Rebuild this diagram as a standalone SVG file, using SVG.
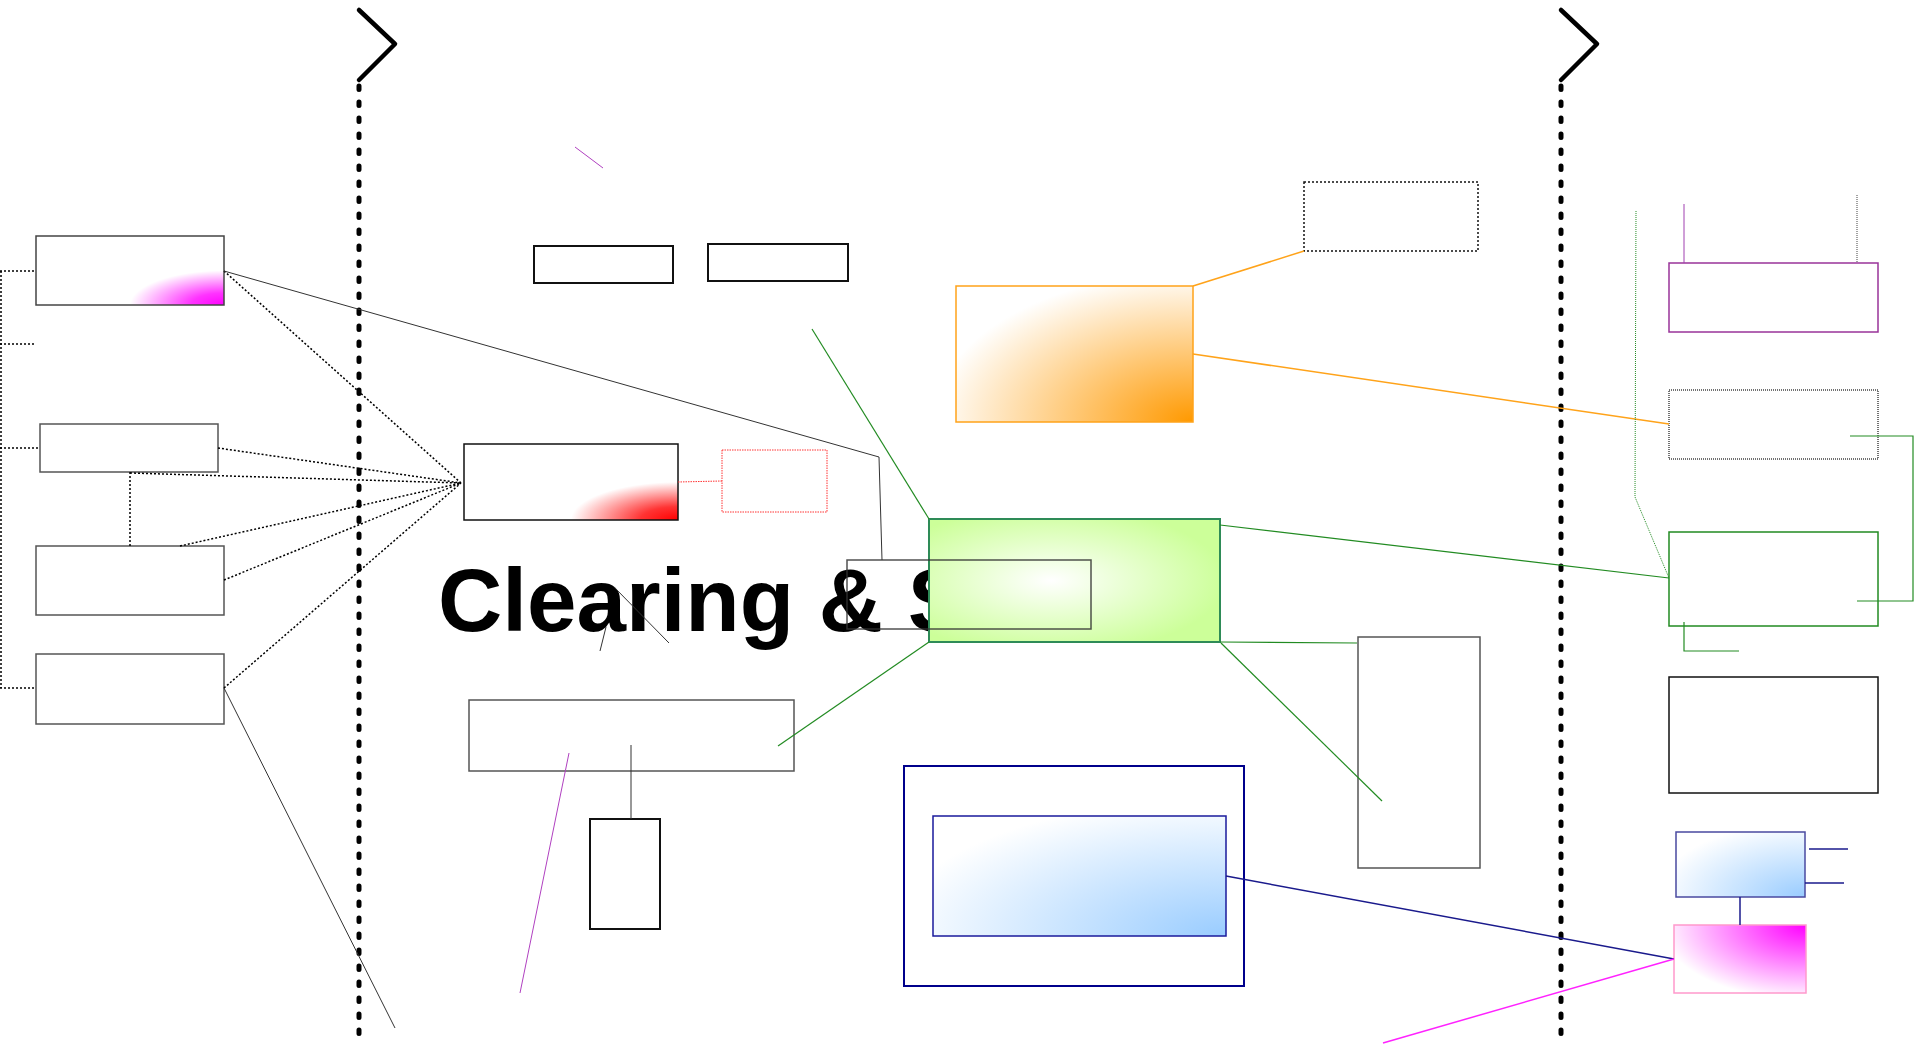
<svg xmlns="http://www.w3.org/2000/svg" width="1915" height="1046" viewBox="0 0 1915 1046">
<style>
.sep{fill:none;stroke:#000;stroke-width:4.5;stroke-linecap:round;stroke-linejoin:round}
.sepd{fill:none;stroke:#000;stroke-width:5;stroke-linecap:round;stroke-dasharray:3.5 12.5}
.dot{fill:none;stroke:#000;stroke-width:1.5;stroke-dasharray:2 2}
.thin{fill:none;stroke:#333;stroke-width:1}
.gbox{fill:none;stroke:#555;stroke-width:1.5}
.bbox{fill:none;stroke:#111;stroke-width:2}
.grn{fill:none;stroke:#228b22;stroke-width:1.2}
.org{fill:none;stroke:#ffa31a;stroke-width:1.5}
.pur{fill:none;stroke:#b040c0;stroke-width:1}
.navy{fill:none;stroke:#1a1a8c;stroke-width:1.5}
.title{font-family:"Liberation Sans",Arial,sans-serif;font-weight:bold;font-size:89px;fill:#000}
</style>
<defs>
<radialGradient id="gMag1" cx="1" cy="1" r="0.5" gradientUnits="objectBoundingBox">
<stop offset="0" stop-color="#ff00ff"/><stop offset="0.35" stop-color="#ff33ff"/><stop offset="1" stop-color="#fff"/>
</radialGradient>
<radialGradient id="gRed" cx="1" cy="1" r="0.5" gradientUnits="objectBoundingBox">
<stop offset="0" stop-color="#ff0000"/><stop offset="0.35" stop-color="#ff3333"/><stop offset="1" stop-color="#fff"/>
</radialGradient>
<radialGradient id="gOrg" cx="1" cy="1" r="1.1" gradientUnits="objectBoundingBox">
<stop offset="0" stop-color="#ff9900"/><stop offset="1" stop-color="#fff"/>
</radialGradient>
<radialGradient id="gGrn" cx="0.42" cy="0.5" r="0.6" gradientUnits="objectBoundingBox">
<stop offset="0" stop-color="#fff"/><stop offset="1" stop-color="#ccff99"/>
</radialGradient>
<radialGradient id="gBlue" cx="1" cy="1" r="1.15" gradientUnits="objectBoundingBox">
<stop offset="0" stop-color="#99ccff"/><stop offset="1" stop-color="#fff"/>
</radialGradient>
<radialGradient id="gMag2" cx="1" cy="0" r="1.1" gradientUnits="objectBoundingBox">
<stop offset="0" stop-color="#ff00ff"/><stop offset="1" stop-color="#fff"/>
</radialGradient>
</defs>
<rect width="1915" height="1046" fill="#fff"/>

<g id="separators">
<path class="sep" d="M359,10 L395,44 L359,80"/>
<line class="sepd" x1="359" y1="86" x2="359" y2="1046"/>
<path class="sep" d="M1561,10 L1597,44 L1561,80"/>
<line class="sepd" x1="1561" y1="86" x2="1561" y2="1046"/>
</g>

<g id="node-mag1"><rect x="36" y="236" width="188" height="69" fill="url(#gMag1)" stroke="#444" stroke-width="1.5"/></g>
<g id="node-a"><rect class="gbox" x="40" y="424" width="178" height="48"/></g>
<g id="node-b"><rect class="gbox" x="36" y="546" width="188" height="69"/></g>
<g id="node-c"><rect class="gbox" x="36" y="654" width="188" height="70"/></g>
<g id="node-top1"><rect class="bbox" x="534" y="246" width="139" height="37"/></g>
<g id="node-top2"><rect class="bbox" x="708" y="244" width="140" height="37"/></g>
<g id="node-red"><rect x="464" y="444" width="214" height="76" fill="url(#gRed)" stroke="#111" stroke-width="1.5"/></g>
<g id="node-redbox"><rect x="722" y="450" width="105" height="62" fill="none" stroke="#ff3333" stroke-width="1" stroke-dasharray="1.5 1"/></g>
<g id="node-d"><rect class="gbox" x="469" y="700" width="325" height="71"/></g>
<g id="node-h"><rect class="bbox" x="590" y="819" width="70" height="110"/></g>
<g id="node-orange"><rect x="956" y="286" width="237" height="136" fill="url(#gOrg)" stroke="#ffa31a" stroke-width="1.5"/></g>
<g id="node-dotbox"><rect x="1304" y="182" width="174" height="69" fill="none" stroke="#111" stroke-width="1.5" stroke-dasharray="2 2"/></g>
<g id="node-f"><rect class="gbox" x="1358" y="637" width="122" height="231"/></g>
<g id="node-navy"><rect x="904" y="766" width="340" height="220" fill="none" stroke="#00008b" stroke-width="2"/>
<rect x="933" y="816" width="293" height="120" fill="url(#gBlue)" stroke="#1a1a9c" stroke-width="1.5"/></g>

<g id="title"><text class="title" x="438" y="631">Clearing &amp; S</text></g>

<g id="node-green"><rect x="929" y="519" width="291" height="123" fill="url(#gGrn)" stroke="#2e8b57" stroke-width="2"/></g>
<g id="node-e"><rect x="847" y="560" width="244" height="69" fill="none" stroke="#333" stroke-width="1.5" stroke-opacity="0.85"/></g>

<g id="node-purple"><rect x="1669" y="263" width="209" height="69" fill="none" stroke="#993399" stroke-width="1.5"/></g>
<g id="node-graydot"><rect x="1669" y="390" width="209" height="69" fill="none" stroke="#444" stroke-width="1.5" stroke-dasharray="1 1"/></g>
<g id="node-greenbox"><rect x="1669" y="532" width="209" height="94" fill="none" stroke="#228b22" stroke-width="1.5"/></g>
<g id="node-g"><rect x="1669" y="677" width="209" height="116" fill="none" stroke="#111" stroke-width="1.5"/></g>
<g id="node-blue"><rect x="1676" y="832" width="129" height="65" fill="url(#gBlue)" stroke="#4a4aa0" stroke-width="1.5"/></g>
<g id="node-mag2"><rect x="1674" y="925" width="132" height="68" fill="url(#gMag2)" stroke="#ff99cc" stroke-width="1.5"/></g>

<g id="connectors">
<path class="dot" d="M1,271 L1,688"/>
<line class="dot" x1="0" y1="271" x2="36" y2="271"/>
<line class="dot" x1="0" y1="344" x2="35" y2="344"/>
<line class="dot" x1="0" y1="448" x2="40" y2="448"/>
<line class="dot" x1="0" y1="688" x2="36" y2="688"/>
<line class="dot" x1="130" y1="472" x2="130" y2="546"/>
<line class="dot" x1="224" y1="271" x2="461" y2="483"/>
<line class="dot" x1="218" y1="448" x2="461" y2="483"/>
<line class="dot" x1="130" y1="473" x2="461" y2="483"/>
<line class="dot" x1="180" y1="546" x2="461" y2="483"/>
<line class="dot" x1="224" y1="580" x2="461" y2="483"/>
<line class="dot" x1="224" y1="688" x2="461" y2="483"/>
<path class="thin" d="M224,271 L879,457 L882,560"/>
<line class="thin" x1="224" y1="688" x2="395" y2="1028"/>
<line x1="678" y1="482" x2="722" y2="481" stroke="#ff3333" stroke-width="1" stroke-dasharray="1.5 1"/>
<line class="pur" x1="575" y1="147" x2="603" y2="168"/>
<line class="pur" x1="569" y1="753" x2="520" y2="993"/>
<line class="thin" x1="631" y1="745" x2="631" y2="819"/>
<line class="thin" x1="614" y1="587" x2="669" y2="643" stroke="#555"/>
<line class="thin" x1="606" y1="627" x2="600" y2="651" stroke="#555"/>
<line class="grn" x1="812" y1="329" x2="929" y2="519"/>
<line class="grn" x1="1220" y1="525" x2="1669" y2="578"/>
<line class="grn" x1="1220" y1="642" x2="1357" y2="643"/>
<line class="grn" x1="1221" y1="643" x2="1382" y2="801"/>
<line class="grn" x1="929" y1="642" x2="778" y2="746"/>
<line class="org" x1="1193" y1="286" x2="1304" y2="251"/>
<line class="org" x1="1193" y1="354" x2="1669" y2="424"/>
<path d="M1636,211 L1635,497 L1669,578" fill="none" stroke="#228b22" stroke-width="1" stroke-dasharray="1 1"/>
<line x1="1684" y1="204" x2="1684" y2="263" stroke="#a040b0" stroke-width="1"/>
<line x1="1857" y1="195" x2="1857" y2="263" stroke="#444" stroke-width="1" stroke-dasharray="1 1"/>
<path class="grn" d="M1850,436 L1913,436 L1913,601 L1857,601" stroke-width="1.5"/>
<path class="grn" d="M1684,622 L1684,651 L1739,651" stroke-width="1.5"/>
<line class="navy" x1="1226" y1="876" x2="1674" y2="959"/>
<line x1="1674" y1="959" x2="1383" y2="1043" stroke="#ff22ff" stroke-width="1.5"/>
<line class="navy" x1="1740" y1="897" x2="1740" y2="925"/>
<line class="navy" x1="1809" y1="849" x2="1848" y2="849"/>
<line class="navy" x1="1805" y1="883" x2="1844" y2="883"/>
</g>
</svg>
